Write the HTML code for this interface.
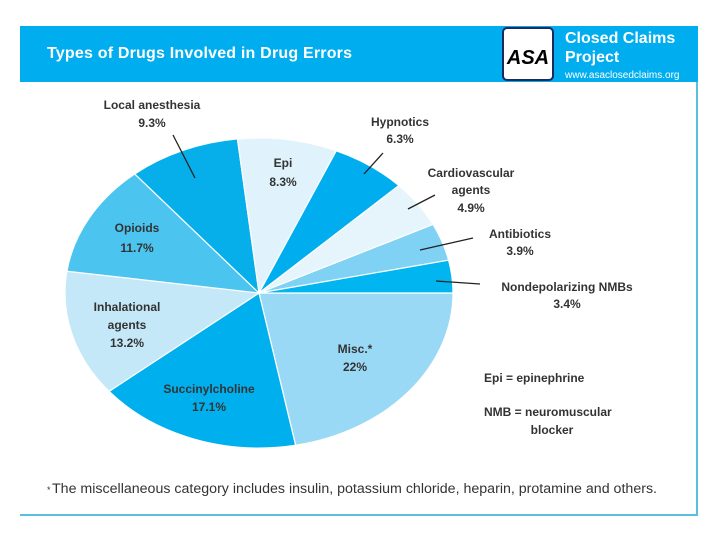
<!DOCTYPE html>
<html><head><meta charset="utf-8"><style>
body{margin:0;background:#fff;}
svg text{font-family:"Liberation Sans",Arial,sans-serif;}
</style></head><body>
<svg width="720" height="540" viewBox="0 0 720 540" xmlns="http://www.w3.org/2000/svg">
<rect x="20" y="26" width="678" height="56" fill="#00aeef"/>
<text x="47" y="58" font-size="16" font-weight="bold" fill="#fff" textLength="305">Types of Drugs Involved in Drug Errors</text>
<rect x="503" y="28" width="50" height="52" rx="4" fill="#fff" stroke="#1a2a5a" stroke-width="2"/>
<text x="528" y="64" font-size="20" font-weight="bold" font-style="italic" text-anchor="middle" fill="#000">ASA</text>
<text x="565" y="43" font-size="16" font-weight="bold" fill="#fff">Closed Claims</text>
<text x="565" y="62" font-size="16" font-weight="bold" fill="#fff">Project</text>
<text x="565" y="78" font-size="10" fill="#fff">www.asaclosedclaims.org</text>
<line x1="697" y1="82" x2="697" y2="516" stroke="#5bc0e0" stroke-width="2"/>
<line x1="20" y1="515" x2="697" y2="515" stroke="#5bc0e0" stroke-width="2"/>
<g id="pie"></g>
<g fill="#333" font-size="12" font-weight="bold" text-anchor="middle">
<text x="152" y="109">Local anesthesia</text>
<text x="152" y="127">9.3%</text>
<text x="400" y="126">Hypnotics</text>
<text x="400" y="143">6.3%</text>
<text x="471" y="177">Cardiovascular</text>
<text x="471" y="194">agents</text>
<text x="471" y="212">4.9%</text>
<text x="520" y="238">Antibiotics</text>
<text x="520" y="255">3.9%</text>
<text x="567" y="291">Nondepolarizing NMBs</text>
<text x="567" y="308">3.4%</text>
<text x="283" y="167">Epi</text>
<text x="283" y="186">8.3%</text>
<text x="137" y="232">Opioids</text>
<text x="137" y="252">11.7%</text>
<text x="127" y="311">Inhalational</text>
<text x="127" y="329">agents</text>
<text x="127" y="347">13.2%</text>
<text x="209" y="393">Succinylcholine</text>
<text x="209" y="411">17.1%</text>
<text x="355" y="353">Misc.*</text>
<text x="355" y="371">22%</text>
<text x="484" y="382" text-anchor="start">Epi = epinephrine</text>
<text x="484" y="416" text-anchor="start">NMB = neuromuscular</text>
<text x="552" y="434">blocker</text>
</g>
<g stroke="#222" stroke-width="1.3">
<line x1="173" y1="135" x2="195" y2="178"/>
<line x1="383" y1="153" x2="364" y2="174"/>
<line x1="435" y1="195" x2="408" y2="209"/>
<line x1="473" y1="238" x2="420" y2="250"/>
<line x1="480" y1="284" x2="436" y2="281"/>
</g>
<text x="47" y="493" font-size="9" fill="#333">*</text>
<text x="52" y="493" font-size="13.5" fill="#333" textLength="605" lengthAdjust="spacingAndGlyphs">The miscellaneous category includes insulin, potassium chloride, heparin, protamine and others.</text>
</svg>
<script>
const categories=["Misc.","Succinylcholine","Inhalational agents","Opioids","Local anesthesia","Epi","Hypnotics","Cardiovascular agents","Antibiotics","Nondepolarizing NMBs"];
const values=[22,17.1,13.2,11.7,9.3,8.3,6.3,4.9,3.9,3.4];
const colors=["#9ad9f5","#00b0ee","#c4e8f8","#4cc4f0","#06aeea","#e0f3fc","#00aeef","#e6f5fc","#7fd2f3","#00b5f0"];
const cx=259,cy=293,rx=194,ry=155;
const total=values.reduce((a,b)=>a+b,0);
const g=document.getElementById('pie');
let a0=0;
function pt(a){return [cx+rx*Math.cos(a),cy+ry*Math.sin(a)];}
values.forEach((v,i)=>{
  const a1=a0+v/total*Math.PI*2;
  const p0=pt(a0),p1=pt(a1);
  const large=(a1-a0)>Math.PI?1:0;
  const p=document.createElementNS('http://www.w3.org/2000/svg','path');
  p.setAttribute('d',`M${cx},${cy} L${p0[0]},${p0[1]} A${rx},${ry} 0 ${large} 1 ${p1[0]},${p1[1]} Z`);
  p.setAttribute('fill',colors[i]);
  p.setAttribute('stroke','#fff');
  p.setAttribute('stroke-width','1.2');
  
  
  g.appendChild(p);
  a0=a1;
});
</script>
</body></html>
